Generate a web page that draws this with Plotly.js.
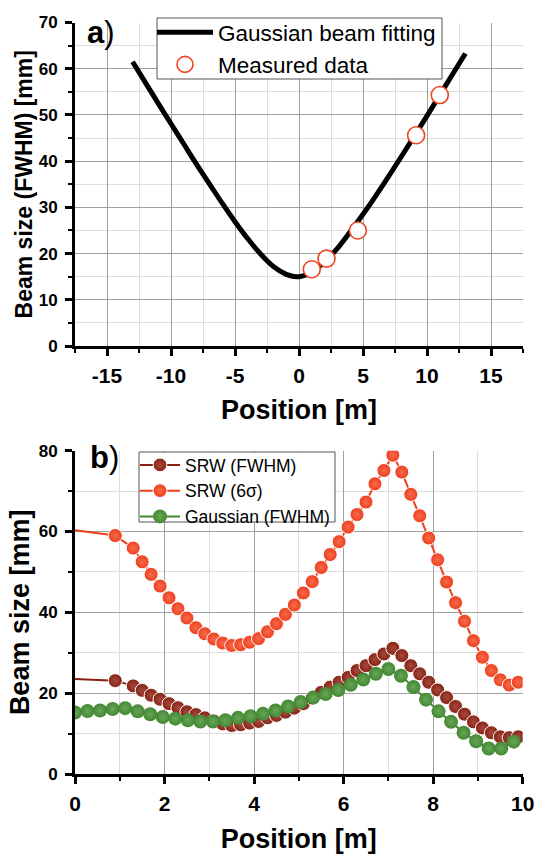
<!DOCTYPE html>
<html>
<head>
<meta charset="utf-8">
<script src="https://cdn.plot.ly/plotly-3.0.1.min.js"></script>
<style>html,body{margin:0;padding:0;background:#fff;}#chart{width:535px;height:854px;}</style>
</head>
<body>
<div id="chart"></div>
<script>
// ---------- Panel a data ----------
const fitPosition = [-13, -12, -11, -10, -9, -8, -7, -6, -5, -4, -3, -2, -1, -0.5, -0.2, 0, 0.5, 1, 2, 3, 4, 5, 6, 7, 8, 9, 10, 11, 12, 13];
const fitSize     = [61.5, 57.0, 52.5, 48.1, 43.7, 39.3, 35.1, 30.9, 26.9, 23.2, 19.9, 17.2, 15.5, 15.1, 15.0, 15.0, 15.35, 16.0, 18.2, 21.1, 24.7, 28.5, 32.5, 36.7, 41.0, 45.4, 49.8, 54.3, 58.8, 63.3];
const measPosition = [1.0, 2.15, 4.6, 9.15, 11.0];
const measSize     = [16.6, 18.9, 25.0, 45.6, 54.3];
const xTicksA = [-15, -10, -5, 0, 5, 10, 15];
const xTickTextA = ['-15', '-10', '-5', '0', '5', '10', '15'];

// ---------- Panel b data ----------
const srwPosition = [0, 0.9, 1.3, 1.5, 1.7, 1.9, 2.1, 2.3, 2.5, 2.7, 2.9, 3.1, 3.3, 3.5, 3.7, 3.9, 4.1, 4.3, 4.5, 4.7, 4.9,
  5.1, 5.3, 5.5, 5.7, 5.9, 6.1, 6.3, 6.5, 6.7, 6.9, 7.1, 7.3, 7.5, 7.7, 7.9, 8.1, 8.3, 8.5, 8.7, 8.9, 9.1, 9.3, 9.5, 9.7, 9.9];
const srwFWHM = [23.5, 23.1, 21.8, 20.7, 19.5, 18.5, 17.4, 16.4, 15.4, 14.7, 13.9, 13.1, 12.4, 12.0, 12.2, 12.6, 13.0, 13.9, 14.5, 15.3, 16.3,
  17.4, 18.8, 20.2, 21.5, 22.7, 23.9, 25.6, 26.8, 28.3, 29.7, 31.1, 29.3, 26.8, 24.8, 22.7, 20.8, 18.9, 16.7, 14.8, 12.9, 11.4, 10.2, 9.2, 9.0, 9.2];
const srw6sigma = [60.3, 59.0, 55.9, 52.5, 49.4, 46.5, 43.6, 40.9, 38.6, 36.2, 34.7, 33.4, 32.4, 31.8, 32.0, 32.6, 33.5, 35.2, 37.2, 39.5, 41.8,
  44.8, 47.6, 51.1, 54.3, 57.5, 61.1, 64.2, 67.3, 71.8, 75.1, 78.9, 74.7, 69.2, 63.9, 58.4, 53.0, 47.5, 42.4, 37.8, 33.0, 28.9, 25.6, 23.3, 22.0, 22.7];
const gaussPosition = [0, 0.28, 0.56, 0.84, 1.12, 1.40, 1.68, 1.96, 2.24, 2.52, 2.80, 3.08, 3.36, 3.64, 3.92, 4.20, 4.48, 4.76,
  5.04, 5.32, 5.60, 5.88, 6.16, 6.44, 6.72, 7.00, 7.28, 7.56, 7.84, 8.12, 8.40, 8.68, 8.96, 9.24, 9.52, 9.80];
const gaussFWHM = [15.2, 15.6, 15.7, 16.1, 16.3, 15.5, 14.8, 14.1, 13.7, 13.3, 13.0, 13.0, 13.3, 13.9, 14.3, 14.9, 15.7, 16.7,
  17.8, 18.9, 19.8, 20.8, 22.1, 23.4, 24.8, 26.0, 24.3, 21.5, 18.4, 15.5, 12.9, 10.2, 8.1, 6.3, 6.3, 8.0];

const FONT = 'Liberation Sans, Arial, Helvetica, sans-serif';
const W = 535, H = 854;
const px = v => v / W;
const py = v => 1 - v / H;

const RED = '#ee3f1c', BROWN = '#862214', GREEN = '#438733';
const MS = 14;
// hide marker on the first (axis-edge) point of SRW curves
const srwSizes = srwPosition.map((v, i) => i === 0 ? 0 : MS);

const traces = [
  {
    x: fitPosition, y: fitSize, type: 'scatter', mode: 'lines',
    name: 'Gaussian beam fitting', line: {color: '#000', width: 5, shape: 'spline'},
    xaxis: 'x', yaxis: 'y', legend: 'legend'
  },
  {
    x: measPosition, y: measSize, type: 'scatter', mode: 'markers',
    name: 'Measured data',
    marker: {symbol: 'circle', size: 17, color: '#fff', line: {color: '#ee4422', width: 1.6}},
    xaxis: 'x', yaxis: 'y', legend: 'legend'
  },
  {
    x: srwPosition, y: srwFWHM, type: 'scatter', mode: 'lines+markers',
    name: 'SRW (FWHM)', line: {color: BROWN, width: 2},
    marker: {color: BROWN, size: srwSizes, opacity: 1, gradient: {type: 'radial', color: '#a5493c'}},
    xaxis: 'x2', yaxis: 'y2', legend: 'legend2'
  },
  {
    x: srwPosition, y: srw6sigma, type: 'scatter', mode: 'lines+markers',
    name: 'SRW (6σ)', line: {color: RED, width: 2},
    marker: {color: RED, size: srwSizes, opacity: 1, gradient: {type: 'radial', color: '#f56a4e'}},
    xaxis: 'x2', yaxis: 'y2', legend: 'legend2'
  },
  {
    x: gaussPosition, y: gaussFWHM, type: 'scatter', mode: 'lines+markers',
    name: 'Gaussian (FWHM)', line: {color: GREEN, width: 2},
    marker: {color: GREEN, size: MS, opacity: 1, gradient: {type: 'radial', color: '#67a757'}},
    xaxis: 'x2', yaxis: 'y2', legend: 'legend2'
  }
];

const majorGrid = '#a0a0a0', minorGrid = '#dedede';
function axisBase(extra) {
  return Object.assign({
    showline: true, linecolor: '#000', linewidth: 3,
    ticks: 'outside', ticklen: 7, tickwidth: 3, tickcolor: '#000',
    showgrid: true, gridcolor: majorGrid, gridwidth: 1,
    zeroline: false, fixedrange: true
  }, extra);
}
const minorSpec = d => ({dtick: d, tick0: 0, showgrid: true, gridcolor: minorGrid, gridwidth: 1,
  ticks: 'outside', ticklen: 4, tickwidth: 2, tickcolor: '#000'});

const layout = {
  width: W, height: H,
  margin: {l: 0, r: 0, t: 0, b: 0},
  paper_bgcolor: '#fff', plot_bgcolor: '#fff',
  font: {family: FONT, color: '#000'},
  xaxis: axisBase({
    domain: [px(75), px(523)], anchor: 'y', range: [-17.5, 17.5],
    tickmode: 'array', tickvals: xTicksA, ticktext: xTickTextA,
    minor: minorSpec(2.5),
    tickfont: {family: FONT, size: 21, weight: 'bold'}, ticklabelstandoff: 2,
    title: {text: 'Position [m]', font: {family: FONT, size: 27, weight: 'bold'}, standoff: 14}
  }),
  yaxis: axisBase({
    domain: [py(346), py(22.5)], anchor: 'x', range: [0, 70], dtick: 10, tick0: 0,
    minor: minorSpec(5),
    tickfont: {family: FONT, size: 17, weight: 'bold'}, ticklabelstandoff: 4,
    title: {text: 'Beam size (FWHM) [mm]', font: {family: FONT, size: 23, weight: 'bold'}, standoff: 0}
  }),
  xaxis2: axisBase({
    domain: [px(75), px(522.7)], anchor: 'y2', range: [0, 10], dtick: 2, tick0: 0,
    minor: minorSpec(1),
    tickfont: {family: FONT, size: 21, weight: 'bold'}, ticklabelstandoff: 2,
    title: {text: 'Position [m]', font: {family: FONT, size: 27, weight: 'bold'}, standoff: 16}
  }),
  yaxis2: axisBase({
    domain: [py(774), py(450.7)], anchor: 'x2', range: [0, 80], dtick: 20, tick0: 0,
    minor: minorSpec(10),
    tickfont: {family: FONT, size: 17, weight: 'bold'}, ticklabelstandoff: 4,
    title: {text: 'Beam size [mm]', font: {family: FONT, size: 27, weight: 'bold'}, standoff: 2}
  }),
  legend: {
    x: px(152), y: py(11), xanchor: 'left', yanchor: 'top',
    bgcolor: 'rgba(0,0,0,0)', borderwidth: 0,
    font: {family: FONT, size: 22.5}, itemwidth: 56, tracegroupgap: 0
  },
  legend2: {
    x: px(135), y: py(447), xanchor: 'left', yanchor: 'top',
    bgcolor: 'rgba(0,0,0,0)', borderwidth: 0,
    font: {family: FONT, size: 17.5}, itemwidth: 40, tracegroupgap: 0
  },
  shapes: [
    {type: 'rect', xref: 'paper', yref: 'paper', x0: px(157), x1: px(442), y0: py(79), y1: py(18),
     fillcolor: '#fff', line: {color: '#555', width: 1}, layer: 'above'},
    {type: 'rect', xref: 'paper', yref: 'paper', x0: px(139), x1: px(335), y0: py(522), y1: py(452),
     fillcolor: '#fff', line: {color: '#555', width: 1}, layer: 'above'}
  ],
  annotations: [
    {text: '<b>a</b>)', xref: 'paper', yref: 'paper', x: px(85), y: py(32), xanchor: 'left', yanchor: 'middle',
     showarrow: false, font: {family: FONT, size: 31}},
    {text: '<b>b</b>)', xref: 'paper', yref: 'paper', x: px(88), y: py(457), xanchor: 'left', yanchor: 'middle',
     showarrow: false, font: {family: FONT, size: 31}}
  ],
  showlegend: true
};

Plotly.newPlot('chart', traces, layout, {displayModeBar: false, staticPlot: true});
</script>
</body>
</html>
